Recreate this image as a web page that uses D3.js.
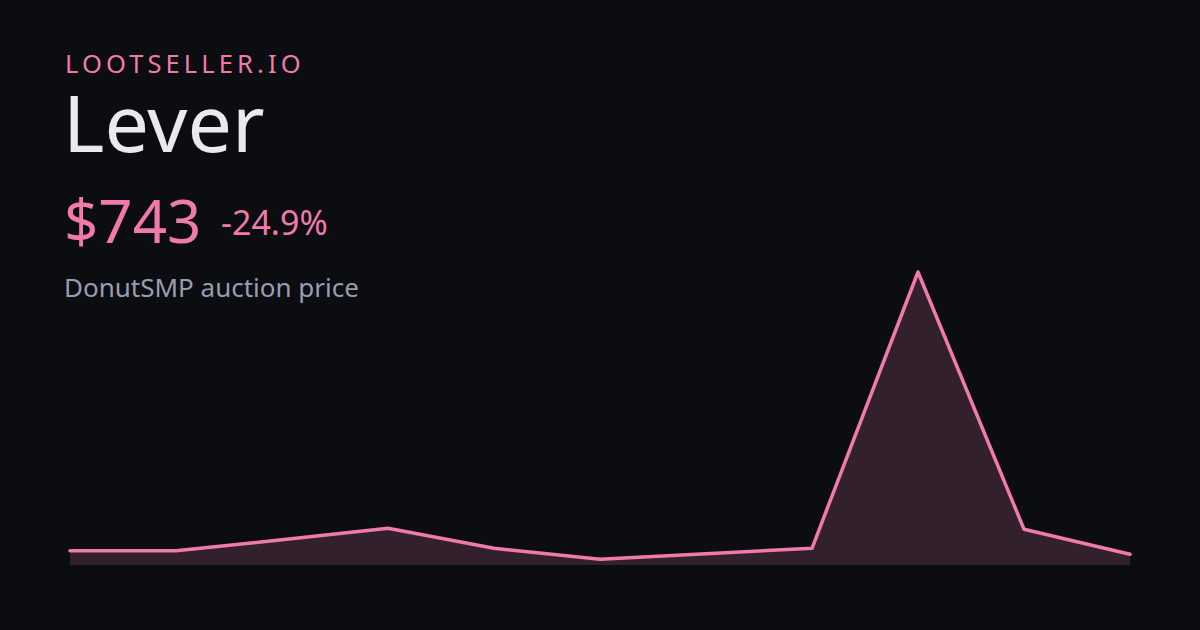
<!DOCTYPE html>
<html>
<head>
<meta charset="utf-8">
<script src="https://cdn.jsdelivr.net/npm/d3@7"></script>
<style>
  html, body { margin: 0; padding: 0; background: #0c0d11; }
  svg { display: block; }
</style>
</head>
<body>
<svg id="chart" width="1200" height="630"></svg>
<script>
const brand = "LOOTSELLER.IO";
const itemName = "Lever";
const priceLabel = "$743";
const changeLabel = "-24.9%";
const subtitle = "DonutSMP auction price";
const pointIndex = [0, 1, 2, 3, 4, 5, 6, 7, 8, 9, 10];
const prices = [989, 985, 1745, 2550, 1160, 396, 778, 1160, 20300, 2480, 743];

const W = 1200, H = 630;
const svg = d3.select("#chart");
svg.append("rect").attr("width", W).attr("height", H).attr("fill", "#0c0d11");

const font = "'Noto Sans', 'Open Sans', sans-serif";
const pink = "#f07aab";

svg.append("text").attr("x", 65).attr("y", 73)
  .attr("font-family", font).attr("font-size", 25.5).attr("letter-spacing", 4.1)
  .attr("fill", pink).text(brand);

svg.append("text").attr("x", 63).attr("y", 152)
  .attr("font-family", font).attr("font-size", 79).attr("fill", "#e9e9ef").text(itemName);

svg.append("text").attr("x", 64).attr("y", 243)
  .attr("font-family", font).attr("font-size", 60).attr("fill", pink).text(priceLabel);

svg.append("text").attr("x", 221).attr("y", 234.5)
  .attr("font-family", font).attr("font-size", 34).attr("fill", pink).text(changeLabel);

svg.append("text").attr("x", 64).attr("y", 297)
  .attr("font-family", font).attr("font-size", 26).attr("fill", "#9a9db0").text(subtitle);

const x = d3.scaleLinear().domain([0, pointIndex.length - 1]).range([70, 1130]);
const y = d3.scaleLinear().domain([0, d3.max(prices)]).range([565, 272]);

const data = pointIndex.map((i) => ({ i, v: prices[i] }));

const area = d3.area().x(d => x(d.i)).y0(565).y1(d => y(d.v));
const line = d3.line().x(d => x(d.i)).y(d => y(d.v));

svg.append("path").datum(data).attr("d", area).attr("fill", "#32202d");
svg.append("path").datum(data).attr("d", line)
  .attr("fill", "none").attr("stroke", pink).attr("stroke-width", 3.5)
  .attr("stroke-linejoin", "round").attr("stroke-linecap", "round");
</script>
</body>
</html>
